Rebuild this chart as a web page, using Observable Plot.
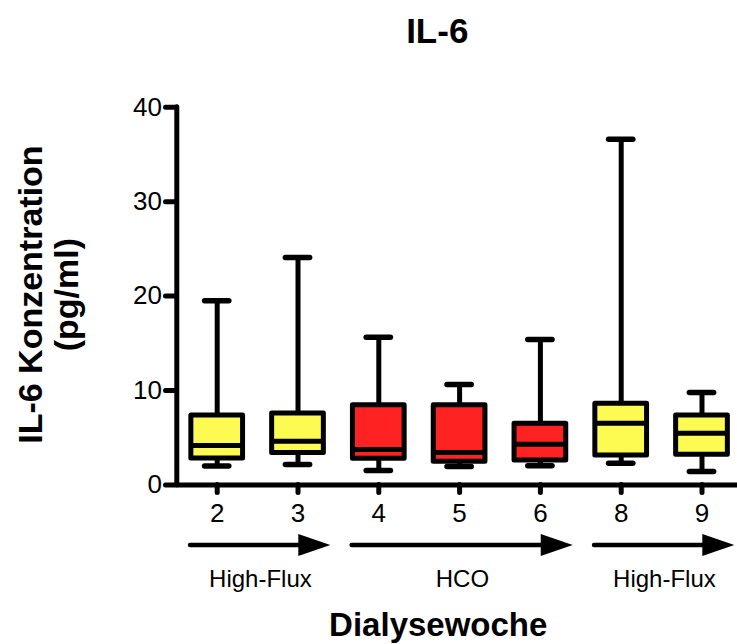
<!DOCTYPE html>
<html>
<head>
<meta charset="utf-8">
<script src="https://cdn.jsdelivr.net/npm/d3@7"></script>
<script src="https://cdn.jsdelivr.net/npm/@observablehq/plot@0.6"></script>
<style>
  html, body { margin: 0; padding: 0; background: #fff; }
  #chart svg { display: block; }
</style>
</head>
<body>
<div id="chart"></div>
<script>
// Data
const weeks   = ["2", "3", "4", "5", "6", "8", "9"];
const groupOf = ["High-Flux", "High-Flux", "HCO", "HCO", "HCO", "High-Flux", "High-Flux"];
const mins    = [2.0, 2.17, 1.54, 1.96, 2.03, 2.31, 1.43];
const q1s     = [2.8, 3.39, 2.77, 2.45, 2.59, 3.12, 3.19];
const medians = [4.18, 4.64, 3.76, 3.44, 4.32, 6.55, 5.49];
const q3s     = [7.36, 7.57, 8.44, 8.45, 6.48, 8.6, 7.36];
const maxs    = [19.5, 24.1, 15.65, 10.64, 15.4, 36.6, 9.79];
const yTicks  = [0, 10, 20, 30, 40];
const phases  = [
  {label: "High-Flux", from: 0, to: 1},
  {label: "HCO", from: 2, to: 4},
  {label: "High-Flux", from: 5, to: 6}
];
const title  = "IL-6";
const yLabel = "IL-6 Konzentration\n(pg/ml)";
const xLabel = "Dialysewoche";

const colors = {"High-Flux": "#fdfb52", "HCO": "#fe2222"};

const boxes = weeks.map((w, i) => ({
  i, week: w, group: groupOf[i],
  min: mins[i], q1: q1s[i], median: medians[i], q3: q3s[i], max: maxs[i]
}));

const halfBox = 0.32, halfCap = 0.15;
const arrowStart = -0.33, arrowEnd = 0.4;

// right-pointing filled triangle (arrow head), tip at origin
const arrowHead = {
  draw(ctx) {
    ctx.moveTo(0, 0);
    ctx.lineTo(-32, -11);
    ctx.lineTo(-32, 11);
    ctx.closePath();
  }
};

const font = "'Liberation Sans', Arial, Helvetica, sans-serif";
const arrowDy = 60;

const chart = Plot.plot({
  width: 737,
  height: 644,
  marginLeft: 176.5,
  marginRight: 0,
  marginTop: 106.7,
  marginBottom: 159.5,
  style: {fontFamily: font, color: "#000", background: "#fff", overflow: "visible"},
  x: {type: "linear", domain: [-0.5, weeks.length - 0.5], range: [176.3, 741.9]},
  y: {domain: [0, 40]},
  marks: [
    // axes lines
    Plot.ruleX([-0.5], {stroke: "#000", strokeWidth: 5, strokeLinecap: "round"}),
    Plot.ruleY([0], {stroke: "#000", strokeWidth: 5}),
    Plot.axisY({
      ticks: yTicks, tickSize: 11, tickPadding: 4, fontSize: 26,
      strokeWidth: 5, strokeLinecap: "round", label: null
    }),
    Plot.axisX({
      ticks: d3.range(weeks.length), tickFormat: i => weeks[i],
      tickSize: 8, tickPadding: 10.5, fontSize: 26,
      strokeWidth: 5, strokeLinecap: "round", label: null
    }),
    // whiskers
    Plot.ruleX(boxes, {x: "i", y1: "q3", y2: "max", stroke: "#000", strokeWidth: 5}),
    Plot.ruleX(boxes, {x: "i", y1: "min", y2: "q1", stroke: "#000", strokeWidth: 5}),
    Plot.ruleY(boxes, {y: "max", x1: d => d.i - halfCap, x2: d => d.i + halfCap, stroke: "#000", strokeWidth: 5.5, strokeLinecap: "round"}),
    Plot.ruleY(boxes, {y: "min", x1: d => d.i - halfCap, x2: d => d.i + halfCap, stroke: "#000", strokeWidth: 5.5, strokeLinecap: "round"}),
    // boxes
    Plot.rect(boxes, {
      x1: d => d.i - halfBox, x2: d => d.i + halfBox, y1: "q1", y2: "q3",
      fill: d => colors[d.group], stroke: "#000", strokeWidth: 5, strokeLinejoin: "round"
    }),
    Plot.ruleY(boxes, {y: "median", x1: d => d.i - halfBox, x2: d => d.i + halfBox, stroke: "#000", strokeWidth: 5}),
    // phase arrows
    Plot.ruleY(phases, {
      y: 0, x1: d => d.from + arrowStart, x2: d => d.to + arrowEnd - 0.2,
      dy: arrowDy, stroke: "#000", strokeWidth: 4.5, strokeLinecap: "round"
    }),
    Plot.dot(phases, {
      x: d => d.to + arrowEnd, y: 0, dy: arrowDy,
      symbol: arrowHead, fill: "#000", stroke: null, r: 10
    }),
    Plot.text(phases, {
      x: d => (d.from + arrowStart + d.to + arrowEnd) / 2, y: 0,
      text: "label", dy: 102, lineAnchor: "bottom", fontSize: 24, fill: "#000"
    }),
    // title and axis labels
    Plot.text([title], {
      frameAnchor: "top", textAnchor: "middle", dx: -20, dy: -64.7, lineAnchor: "bottom",
      fontSize: 35, fontWeight: "bold", fill: "#000"
    }),
    Plot.text([xLabel], {
      frameAnchor: "bottom", textAnchor: "middle", dx: -19, dy: 150.5, lineAnchor: "bottom",
      fontSize: 33, fontWeight: "bold", fill: "#000"
    }),
    Plot.text([yLabel], {
      frameAnchor: "left", textAnchor: "middle", dx: -128.5, dy: -1.5, rotate: -90, lineAnchor: "middle",
      lineHeight: 1.05, fontSize: 34, fontWeight: "bold", fill: "#000"
    })
  ]
});

document.getElementById("chart").appendChild(chart);
</script>
</body>
</html>
